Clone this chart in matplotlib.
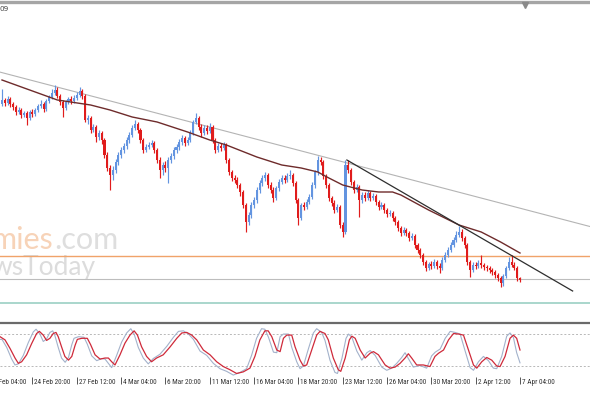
import matplotlib
matplotlib.use('Agg')
import matplotlib.pyplot as plt
from matplotlib import transforms, font_manager
from matplotlib.lines import Line2D

# ---------------- data (4-hour bars, price in chart points) ----------------
opens = [296,300,297,301,296,293,288,290,285,287,
         282,288,286,290,294,296,291,299,303,307,
         310,304,298,292,298,301,299,302,305,309,
         304,280,282,270,273,263,267,260,245,232,
         225,230,238,245,250,254,260,265,272,276,
         270,260,250,253,255,257,250,240,230,235,
         232,240,244,250,253,258,262,257,260,267,
         278,282,273,267,272,269,273,260,250,254,
         252,255,240,228,222,220,215,208,195,178,
         185,195,200,210,217,222,225,215,210,202,
         212,218,222,220,224,225,217,200,182,195,
         193,198,203,215,228,240,238,224,215,202,
         197,190,193,175,168,235,230,218,210,213,
         200,205,202,207,202,204,198,193,195,190,
         186,187,182,178,172,167,170,167,162,164,
         155,150,145,138,132,136,134,138,134,132,
         140,145,150,155,160,165,168,162,155,138,
         130,135,134,137,135,133,132,130,128,125,
         122,117,124,132,138,135,132,122]
closes = [300,297,301,296,293,288,290,285,287,282,
          288,286,290,294,296,291,299,303,307,310,
          304,298,292,298,301,299,302,305,309,304,
          280,282,270,273,263,267,260,245,232,225,
          230,238,245,250,254,260,265,272,276,270,
          260,250,253,255,257,250,240,230,235,232,
          240,244,250,253,258,262,257,260,267,278,
          282,273,267,272,269,273,260,250,254,252,
          255,240,228,222,220,215,208,195,178,185,
          195,200,210,217,222,225,215,210,202,212,
          218,222,220,224,225,217,200,182,195,193,
          198,203,215,228,240,238,224,215,202,197,
          190,193,175,168,235,230,218,210,213,200,
          205,202,207,202,204,198,193,195,190,186,
          187,182,178,172,167,170,167,162,164,155,
          150,145,138,132,136,134,138,134,132,140,
          145,150,155,160,165,168,162,155,138,130,
          135,134,137,135,133,132,130,128,125,122,
          117,124,132,138,135,132,122,120]
highs = [311,302,304,303,298,295,293,292,289,289,
         290,291,292,296,300,298,301,305,311,315,
         313,306,300,300,303,304,305,308,313,311,
         306,285,284,276,275,270,269,262,248,235,
         234,241,248,253,257,263,268,275,280,278,
         272,262,256,258,260,259,252,243,238,239,
         243,247,253,256,261,265,264,263,270,280,
         287,284,276,275,275,277,275,262,257,257,
         258,257,242,230,225,223,217,210,197,188,
         198,203,213,220,225,228,227,218,213,214,
         221,225,225,227,230,227,219,202,197,198,
         201,206,218,230,244,243,240,226,217,204,
         200,196,195,178,240,240,232,220,216,215,
         208,208,210,209,207,206,200,198,197,192,
         190,189,184,180,174,173,172,169,167,166,
         157,152,147,140,138,139,141,140,137,143,
         148,153,158,163,169,174,171,164,157,140,
         138,138,140,145,137,135,134,132,130,127,
         124,126,134,143,145,138,134,123]
lows = [294,294,295,293,290,285,286,282,283,275,
        280,283,284,288,292,288,289,297,301,305,
        302,295,283,290,296,296,297,300,303,301,
        278,276,267,268,258,260,256,242,229,210,
        220,227,235,242,247,251,257,263,270,267,
        257,247,248,251,253,247,237,222,225,228,
        217,237,241,247,250,255,254,255,258,265,
        276,270,263,265,266,267,257,247,248,249,
        250,237,225,219,217,212,204,192,168,175,
        182,192,197,207,214,219,212,207,198,200,
        209,216,217,218,221,214,197,175,180,190,
        191,196,201,212,225,235,221,212,199,194,
        187,188,172,163,166,227,215,207,208,183,
        197,199,200,199,200,195,190,191,187,183,
        184,179,175,169,164,165,164,159,160,152,
        147,142,135,129,130,131,132,131,127,130,
        138,143,148,153,158,163,159,152,135,123,
        128,131,132,132,130,129,127,125,122,119,
        113,114,122,130,133,130,119,118]

# moving average (bar index, value)
ma_bars = [0, 6, 15, 20, 32, 39, 47, 56, 67, 75, 81, 92, 101, 108, 114,
           118, 123, 130, 136, 141, 144, 154, 165, 173, 180, 187]
ma_vals = [320, 314, 305, 300, 295, 290, 283, 278, 268, 260, 255, 243, 235,
           232, 228, 222, 215, 210, 208, 208, 205, 190, 175, 168, 158, 147]

# trend lines and horizontal levels
long_trend = [(19, 313.6), (115, 244.0)]
short_trend = [(124.5, 240.0), (206.0, 109.0)]
level_orange = 144
level_grey = 121
level_teal = 97

# stochastic oscillator: %D (signal) and %K (main)
stoch_d_bars = [-0.7, 1.1, 2.9, 4.7, 5.9, 7.1, 8.9, 10.7, 12.5, 13.5, 14.9, 16.1,
                17.3, 18.5, 19.5, 20.3, 21.5, 22.7, 24, 25.2, 26.4, 27.2, 28.8,
                30.8, 32, 33.6, 35.4, 37.2, 38.4, 39.6, 40.8, 42.6, 44.4, 46.2,
                47.7, 48.9, 50.4, 52.2, 54, 55.8, 58.2, 60.7, 63.1, 64.9, 66.7,
                68.5, 70.3, 72.7, 75.1, 77.5, 79.9, 82.3, 84.7, 87.1, 89.5, 91.3,
                93.1, 94.9, 96.1, 97.4, 99.2, 100.4, 101.6, 102.8, 104.6, 105.8,
                107.6, 108.8, 110, 111.8, 113.6, 114.8, 116.6, 117.8, 119.6,
                121.4, 122.3, 123.9, 125.4, 126.3, 127.5, 129.3, 131.1, 132.9,
                134.1, 135.9, 138.3, 140.1, 141.9, 143.7, 145.5, 146.7, 147.9,
                149.7, 152.1, 154.5, 156.3, 157.6, 159.4, 161.2, 163, 164.8,
                166.6, 168.4, 170.2, 171.4, 173.2, 175, 176.8, 178.6, 179.8,
                181.6, 183.4, 184.6, 185.8, 187]
stoch_d_vals = [75, 69, 53, 35, 25, 28, 41, 62, 81, 85, 78, 68,
                72, 81, 83, 75, 56, 38, 31, 38, 59, 70, 72,
                72, 60, 41, 33, 35, 35, 28, 22, 41, 63, 78,
                86, 78, 56, 38, 28, 35, 41, 56, 72, 82, 83,
                78, 69, 50, 41, 28, 19, 13, 6, 9, 16, 38,
                69, 86, 86, 75, 50, 47, 72, 78, 78, 56,
                31, 20, 22, 50, 78, 85, 81, 69, 35,
                13, 10, 35, 69, 76, 72, 50, 35, 44,
                47, 41, 22, 16, 18, 25, 35, 43, 35,
                22, 22, 19, 38, 44, 50, 69, 81, 80,
                78, 50, 22, 16, 28, 36, 31, 20, 19,
                38, 72, 78, 72, 50]
stoch_k_bars = [-0.7, 0, 1.7, 3.5, 4.7, 5.9, 7.7, 9.5, 11.3, 12.3, 13.7, 14.9,
                16.1, 17.3, 18.3, 19.1, 20.3, 21.5, 22.8, 24, 25.2, 26, 27.6,
                29.6, 30.8, 32.4, 34.2, 36, 37.2, 38.4, 39.6, 41.4, 43.2, 45,
                46.5, 47.7, 49.2, 51, 52.8, 54.6, 57, 59.5, 61.9, 63.7, 65.5,
                67.3, 69.1, 71.5, 73.9, 76.3, 78.7, 81.1, 83.5, 85.9, 88.3, 90.1,
                91.9, 93.7, 94.9, 96.2, 98, 99.2, 100.4, 101.6, 103.4, 104.6,
                106.4, 107.6, 108.8, 110.6, 112.4, 113.6, 115.4, 116.6, 118.4,
                120.2, 121.1, 122.7, 124.2, 125.1, 126.3, 128.1, 129.9, 131.7,
                132.9, 134.7, 137.1, 138.9, 140.7, 142.5, 144.3, 145.5, 146.7,
                148.5, 150.9, 153.3, 155.1, 156.4, 158.2, 160, 161.8, 163.6,
                165.4, 167.2, 169, 170.2, 172, 173.8, 175.6, 177.4, 178.6,
                180.4, 182.2, 183.4, 184.6, 185.8, 187]
stoch_k_vals = [70, 70, 55, 33, 22, 24, 40, 64, 84, 89, 80, 66,
                71, 83, 86, 77, 55, 35, 27, 36, 60, 72, 75,
                74, 61, 39, 30, 34, 33, 25, 17, 40, 65, 82,
                90, 80, 55, 35, 24, 34, 42, 57, 74, 85, 86,
                80, 70, 48, 40, 25, 15, 10, 3, 8, 15, 40,
                72, 90, 89, 74, 46, 45, 75, 80, 80, 55,
                28, 15, 20, 52, 82, 90, 83, 68, 31,
                8, 6, 34, 72, 80, 74, 48, 31, 45,
                49, 40, 18, 12, 16, 25, 36, 45, 34,
                18, 21, 16, 39, 46, 52, 72, 85, 83,
                80, 48, 17, 12, 28, 38, 30, 16, 15,
                38, 76, 82, 74, 45, 26]
stoch_levels = [80, 20]

tick_bars = [-5, 11, 27, 43, 59, 75, 91, 107, 123, 139, 155, 171, 187]
tick_labels = ['20 Feb 04:00', '24 Feb 20:00', '27 Feb 12:00', '4 Mar 04:00',
               '6 Mar 20:00', '11 Mar 12:00', '16 Mar 04:00', '18 Mar 20:00',
               '23 Mar 12:00', '26 Mar 04:00', '30 Mar 20:00', '2 Apr 12:00',
               '7 Apr 04:00']

# ---------------- fonts ----------------
available = {f.name for f in font_manager.fontManager.ttflist}
if 'Liberation Sans Narrow' in available:
    lab_family, lab_size = ['Liberation Sans Narrow', 'DejaVu Sans'], 5.5
elif 'Roboto Condensed' in available:
    lab_family, lab_size = ['Roboto Condensed', 'DejaVu Sans'], 5.2
else:
    lab_family, lab_size = ['Liberation Sans', 'DejaVu Sans'], 4.4

# ---------------- figure ----------------
W, H = 590, 393
fig = plt.figure(figsize=(W / 100, H / 100), dpi=100)
fig.patch.set_facecolor('white')

ax = fig.add_axes([0, 1 - 321 / H, 1, (321 - 4) / H])
axs = fig.add_axes([0, 1 - 377 / H, 1, (377 - 323) / H])

XL = (-0.72, 212.27)
for a in (ax, axs):
    a.set_xlim(*XL)
    a.set_facecolor('white')
    a.set_xticks([])
    a.set_yticks([])
    for s in a.spines.values():
        s.set_visible(False)

ax.set_ylim(79, 396)
axs.set_ylim(-0.6, 100.7)

BULL = '#6394e0'
BEAR = '#e01c1c'

idx = list(range(len(closes)))
cols = [BULL if c >= o else BEAR for o, c in zip(opens, closes)]
ax.vlines(idx, lows, highs, colors=cols, linewidth=0.85, zorder=3)
bottoms = [min(o, c) for o, c in zip(opens, closes)]
heights = [max(abs(c - o), 0.8) for o, c in zip(opens, closes)]
ax.bar(idx, heights, bottom=bottoms, width=0.74, color=cols, linewidth=0, zorder=3)

# moving average
ax.plot(ma_bars, ma_vals, color='#6e2b2b', linewidth=1.0, zorder=4)

# trend lines
ax.axline(long_trend[0], long_trend[1], color='#b4b4b4', linewidth=0.8, zorder=2)
ax.plot([p[0] for p in short_trend], [p[1] for p in short_trend],
        color='#2e2e2e', linewidth=0.9, zorder=4)

# horizontal levels
ax.axhline(level_orange, color='#f0a36a', linewidth=1.0, zorder=2)
ax.axhline(level_grey, color='#bdbdbd', linewidth=0.8, zorder=2)
ax.axhline(level_teal, color='#a9d6cc', linewidth=1.4, zorder=2)

# watermark
ax.text(54 / W, 1 - 240 / H, 'mies', transform=fig.transFigure, fontsize=22,
        family='Lato', color='#f7d3b8', va='center', ha='right', zorder=0.5)
ax.text(54 / W, 1 - 240 / H, '.com', transform=fig.transFigure, fontsize=22,
        family='Lato', color='#dedede', va='center', ha='left', zorder=0.5)
ax.text(-8 / W, 1 - 267 / H, 'wsToday', transform=fig.transFigure, fontsize=19,
        family='Lato', color='#dcdcdc', va='center', ha='left', zorder=0.5)

# stochastic panel
for lv in stoch_levels:
    axs.axhline(lv, color='#b8b8b8', linewidth=0.7, linestyle=(0, (2, 2)))
axs.plot(stoch_k_bars, stoch_k_vals, color='#a3b2cb', linewidth=0.8, zorder=3)
axs.plot(stoch_d_bars, stoch_d_vals, color='#cf2a3a', linewidth=0.9, zorder=4)
axs.spines['top'].set_visible(True)
axs.spines['top'].set_color('#6a6a6a')
axs.spines['top'].set_linewidth(1.6)

# time axis: ticks and labels (MT4 style, label to the right of tick)
trans = transforms.blended_transform_factory(axs.transData, axs.transAxes)
tick_h = 7 / 54
axs.vlines(tick_bars, -tick_h, 0, transform=trans, colors='#555555',
           linewidth=0.7, clip_on=False)
lbl_trans = transforms.offset_copy(trans, fig=fig, x=2, y=0, units='dots')
for tb, tl in zip(tick_bars, tick_labels):
    axs.text(tb, -6 / 54, tl, transform=lbl_trans, ha='left', va='center',
             fontsize=lab_size, family=lab_family,
             color='#333333', clip_on=False)

# top border and chart-shift marker
fig.add_artist(Line2D([0, 1], [1 - 2 / H, 1 - 2 / H], color='#a5a5a5',
                      linewidth=2.4, transform=fig.transFigure))
fig.add_artist(Line2D([525 / W], [1 - 5 / H], marker='v', markersize=4,
                      color='#8a8a8a', linestyle='none',
                      transform=fig.transFigure))
fig.text(0 / W, 1 - 9 / H, '09', fontsize=5.2, color='#444444',
         ha='left', va='center')

fig.savefig('out.png', dpi=100)
